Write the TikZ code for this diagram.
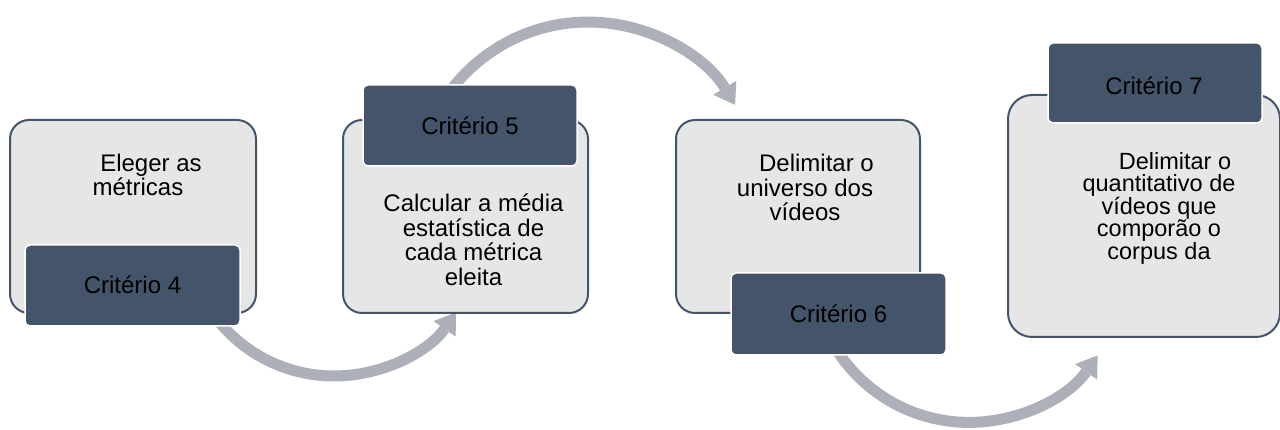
\documentclass[tikz,border=0pt]{standalone}
\usepackage{fontspec}
\setmainfont{Liberation Sans}
\usetikzlibrary{arrows.meta}
\definecolor{darkslate}{HTML}{44546A}
\definecolor{lightfill}{HTML}{E7E6E6}
\definecolor{arrowgray}{HTML}{ADB0B8}
\begin{document}
\begin{tikzpicture}[x=1pt,y=1pt,
  lightbox/.style={draw=darkslate, fill=lightfill, line width=2pt, rounded corners=19pt, inner sep=0pt},
  darkbox/.style={draw=white, fill=darkslate, line width=1.5pt, rounded corners=5pt, inner sep=0pt},
  flow/.style={draw=arrowgray, line width=11pt, -{Triangle[width=27pt,length=20pt,line width=0pt]}},
  bodytext/.style={font=\fontsize{24}{24.5}\selectfont, align=center, inner sep=0pt},
  labeltext/.style={font=\fontsize{24}{24.5}\selectfont, inner sep=0pt, anchor=base}]
\useasboundingbox (0,0) rectangle (1280,430);
% arc centres
\coordinate (c1) at (334,203);
\coordinate (c2) at (588,236);
\coordinate (c3) at (969,164.6);
% arrows (behind boxes)
\draw[flow] ([shift={(212:149)}]c1) arc[start angle=212, end angle=325, radius=149];
\draw[flow] ([shift={(145:172)}]c2) arc[start angle=145, end angle=31.2, radius=172];
\draw[flow] ([shift={(210:157)}]c3) arc[start angle=210, end angle=325, radius=157];
% step 4
\node[lightbox, minimum width=246pt, minimum height=193pt] (l1) at (133,213.5) {};
\node[bodytext] (t1) at (138,255) {\hspace*{26pt}Eleger as\\métricas};
\node[darkbox, minimum width=215pt, minimum height=81pt] (d1) at (132.5,144.5) {};
\node[labeltext] (k1) at (132.5,136.7) {Critério 4};
% step 5
\node[lightbox, minimum width=245pt, minimum height=193pt] (l2) at (465.5,213.5) {};
\node[bodytext] (t2) at (473.5,190) {Calcular a média\\estatística de\\cada métrica\\eleita};
\node[darkbox, minimum width=214pt, minimum height=81pt] (d2) at (470,304.5) {};
\node[labeltext] (k2) at (470,295) {Critério 5};
% step 6
\node[lightbox, minimum width=244pt, minimum height=193pt] (l3) at (798,213.5) {};
\node[bodytext] (t3) at (805,242.5) {\hspace*{23pt}Delimitar o\\universo dos\\vídeos};
\node[darkbox, minimum width=215pt, minimum height=82pt] (d3) at (838.5,116) {};
\node[labeltext] (k3) at (838.5,107.3) {Critério 6};
% step 7
\node[lightbox, rounded corners=24pt, minimum width=272pt, minimum height=242pt] (l4) at (1144,214) {};
\node[bodytext, font=\fontsize{23.5}{22.5}\selectfont] (t4) at (1159,222) {\hspace*{32pt}Delimitar o\\quantitativo de\\vídeos que\\comporão o\\corpus da};
\node[darkbox, minimum width=214pt, minimum height=80pt] (d4) at (1155,347) {};
\node[labeltext] (k4) at (1154,335) {Critério 7};
\end{tikzpicture}
\end{document}
